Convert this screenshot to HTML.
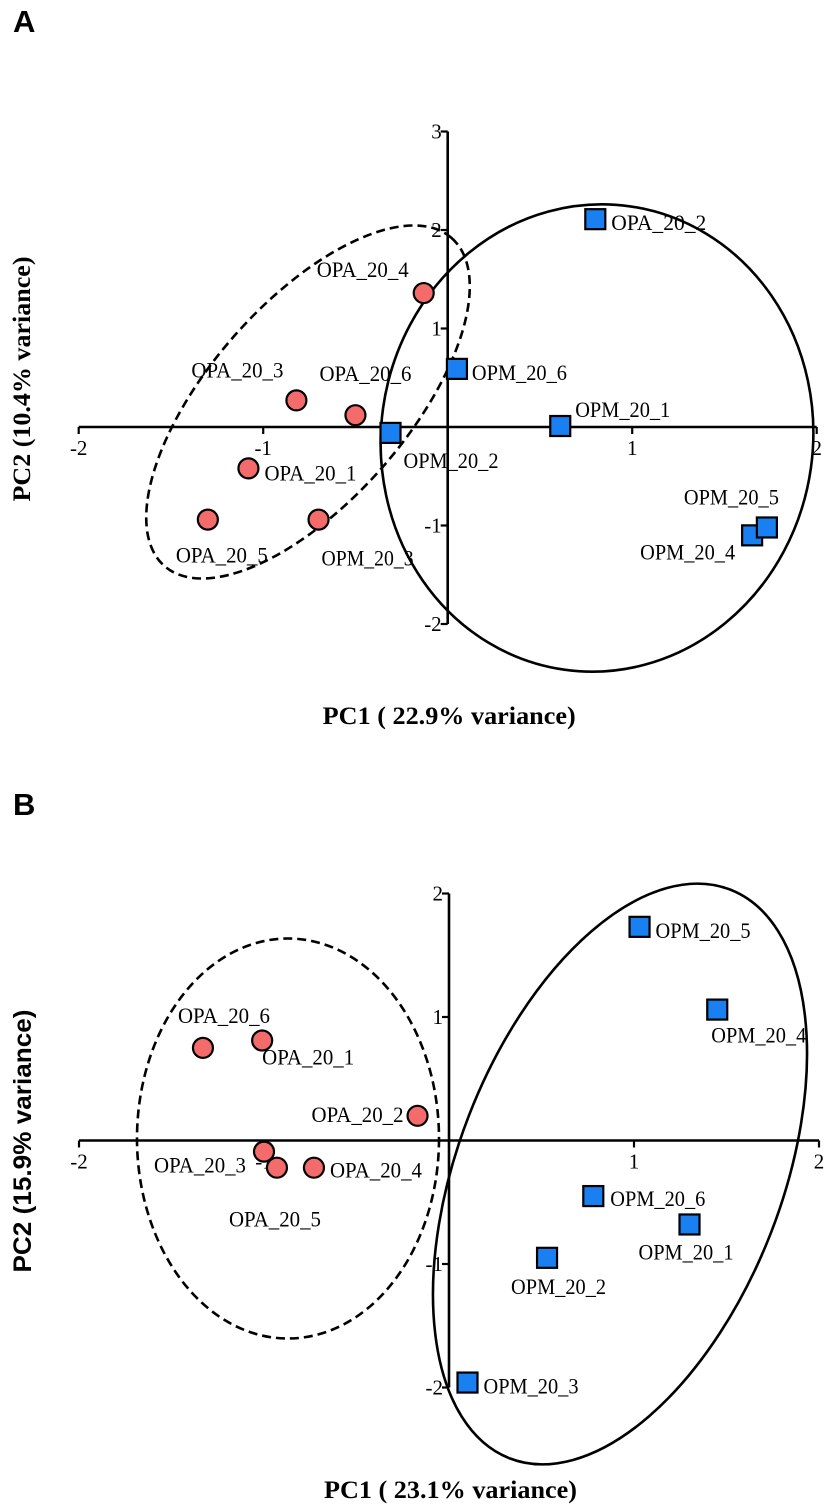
<!DOCTYPE html>
<html><head><meta charset="utf-8"><style>
html,body{margin:0;padding:0;background:#fff}
svg{display:block}
</style></head><body>
<svg id="chart" width="827" height="1506" viewBox="0 0 827 1506" xmlns="http://www.w3.org/2000/svg">
<text x="13" y="32" style="font-family:'Liberation Sans',sans-serif;font-size:31px;font-weight:bold">A</text>
<text x="13" y="815" style="font-family:'Liberation Sans',sans-serif;font-size:31px;font-weight:bold">B</text>
<g id="pa"></g>
<g id="pb"></g>
</svg>
<script>
// Panel A data
const aCircleNames = ["OPA_20_4","OPA_20_3","OPA_20_6","OPA_20_1","OPA_20_5","OPM_20_3"];
const aCircleX = [-0.13,-0.82,-0.50,-1.08,-1.30,-0.70];
const aCircleY = [1.36,0.27,0.12,-0.42,-0.94,-0.94];
const aSquareNames = ["OPA_20_2","OPM_20_6","OPM_20_2","OPM_20_1","OPM_20_4","OPM_20_5"];
const aSquareX = [0.80,0.05,-0.31,0.61,1.65,1.73];
const aSquareY = [2.11,0.59,-0.06,0.01,-1.10,-1.02];
const aXTicks = [-2,-1,1,2];
const aYTicks = [3,2,1,-1,-2];
// Panel B data
const bCircleNames = ["OPA_20_6","OPA_20_1","OPA_20_2","OPA_20_3","OPA_20_5","OPA_20_4"];
const bCircleX = [-1.33,-1.01,-0.17,-1.00,-0.93,-0.73];
const bCircleY = [0.75,0.81,0.20,-0.09,-0.22,-0.22];
const bSquareNames = ["OPM_20_5","OPM_20_4","OPM_20_6","OPM_20_1","OPM_20_2","OPM_20_3"];
const bSquareX = [1.03,1.45,0.78,1.30,0.53,0.10];
const bSquareY = [1.73,1.06,-0.45,-0.68,-0.95,-1.96];
const bXTicks = [-2,-1,1,2];
const bYTicks = [2,1,-1,-2];

const NS="http://www.w3.org/2000/svg";
const SERIF="font-family:'Liberation Serif',serif;";
const SANS="font-family:'Liberation Sans',sans-serif;";
function mk(parent,tag,attrs,txt){const e=document.createElementNS(NS,tag);for(const k in attrs)e.setAttribute(k,attrs[k]);if(txt!==undefined)e.textContent=txt;parent.appendChild(e);return e;}

function panel(g,cfg){
  const sx=v=>cfg.x0+v*cfg.ux, sy=v=>cfg.y0-v*cfg.uy;
  cfg.ellipses.forEach(el=>{
    const e=mk(g,'ellipse',{cx:el.cx,cy:el.cy,rx:el.rx,ry:el.ry,transform:`rotate(${el.rot} ${el.cx} ${el.cy})`,fill:'none',stroke:'#000','stroke-width':2.6,'stroke-dasharray':el.dash?'9 5':'none'});
    
    
  });
  const xa=mk(g,'line',{x1:sx(-2),x2:sx(2),y1:sy(0),y2:sy(0),stroke:'#000','stroke-width':2.6});
  
  
  const ymax=cfg.yTicks[0], ymin=cfg.yTicks[cfg.yTicks.length-1];
  const ya=mk(g,'line',{x1:sx(0),x2:sx(0),y1:sy(ymax),y2:sy(ymin),stroke:'#000','stroke-width':2.6});
  
  
  const tickStyle=SERIF+"font-size:21px;";
  cfg.xTicks.forEach(t=>{
    mk(g,'line',{x1:sx(t),x2:sx(t),y1:sy(0),y2:sy(0)+7,stroke:'#000','stroke-width':2.2});
    const tx=mk(g,'text',{x:sx(t),y:sy(0)+28,'text-anchor':'middle',style:tickStyle,'font-size':21},String(t));
    
    
  });
  cfg.yTicks.forEach(t=>{
    mk(g,'line',{x1:sx(0)-7,x2:sx(0),y1:sy(t),y2:sy(t),stroke:'#000','stroke-width':2.2});
    const tx=mk(g,'text',{x:sx(0)-6,y:sy(t)+7,'text-anchor':'end',style:tickStyle,'font-size':21},String(t));
    
    
  });
  const lblStyle=SERIF+"font-size:22px;";
  cfg.cx.forEach((v,i)=>{
    const c=mk(g,'circle',{cx:sx(v),cy:sy(cfg.cy[i]),r:10,fill:'#F46B6B',stroke:'#000','stroke-width':2.2});
    
    
    const o=cfg.cOff[i];
    const t=mk(g,'text',{x:sx(v)+o[0],y:sy(cfg.cy[i])+o[1]+8,style:lblStyle,'font-size':22,textLength:92,lengthAdjust:'spacingAndGlyphs'},cfg.cn[i]);
    
    
  });
  cfg.qx.forEach((v,i)=>{
    const s=mk(g,'rect',{x:sx(v)-10,y:sy(cfg.qy[i])-10,width:20,height:20,fill:'#1A7FF0',stroke:'#000','stroke-width':2.2});
    
    
    const o=cfg.qOff[i];
    const t=mk(g,'text',{x:sx(v)+o[0],y:sy(cfg.qy[i])+o[1]+8,style:lblStyle,'font-size':22,textLength:95,lengthAdjust:'spacingAndGlyphs'},cfg.qn[i]);
    
    
  });
  const xt=mk(g,'text',{x:cfg.x0-125,y:cfg.xtY,style:SERIF+"font-size:25px;font-weight:bold;",textLength:253,lengthAdjust:'spacingAndGlyphs'},cfg.xTitle);
  
  
  const yt=mk(g,'text',{x:-cfg.ytLen/2,y:0,style:(cfg.ySans?SANS:SERIF)+"font-size:25px;font-weight:bold;",textLength:cfg.ytLen,lengthAdjust:'spacingAndGlyphs',transform:`translate(${cfg.ytX} ${cfg.ytY}) rotate(-90)`},cfg.yTitle);
  
  
}

panel(document.getElementById('pa'),{
  x0:447.7,y0:427,ux:184.5,uy:98.5,
  cx:aCircleX,cy:aCircleY,cn:aCircleNames,qx:aSquareX,qy:aSquareY,qn:aSquareNames,
  cOff:[[-107,-24],[-105,-31],[-36,-42],[16,4],[-32,35],[3,38]],
  qOff:[[16,3],[15,3],[13,27],[15,-17],[-112,16],[-83,-31]],
  xTicks:aXTicks,yTicks:aYTicks,
  ellipses:[{cx:308,cy:402,rx:218,ry:99,rot:-48.8,dash:true,name:'opa-cluster-ellipse'},
            {cx:597,cy:438,rx:216,ry:234,rot:8,dash:false,name:'opm-cluster-ellipse'}],
  xTitle:'PC1 ( 22.9% variance)',xtY:724,yTitle:'PC2 (10.4% variance)',ytX:30,ytY:379,ytLen:245,ySans:false
});
panel(document.getElementById('pb'),{
  x0:449,y0:1140.5,ux:185,uy:123.5,
  cx:bCircleX,cy:bCircleY,cn:bCircleNames,qx:bSquareX,qy:bSquareY,qn:bSquareNames,
  cOff:[[-25,-33],[0,16],[-106,-2],[-110,13],[-48,51],[16,2]],
  qOff:[[16,3],[-6,25],[17,2],[-51,27],[-36,28],[16,3]],
  xTicks:bXTicks,yTicks:bYTicks,
  ellipses:[{cx:288,cy:1138.5,rx:151,ry:200,rot:0,dash:true,name:'opa-cluster-ellipse'},
            {cx:620,cy:1174,rx:305,ry:162,rot:-68.8,dash:false,name:'opm-cluster-ellipse'}],
  xTitle:'PC1 ( 23.1% variance)',xtY:1498,yTitle:'PC2 (15.9% variance)',ytX:31,ytY:1141,ytLen:263,ySans:true
});
</script>
</body></html>
